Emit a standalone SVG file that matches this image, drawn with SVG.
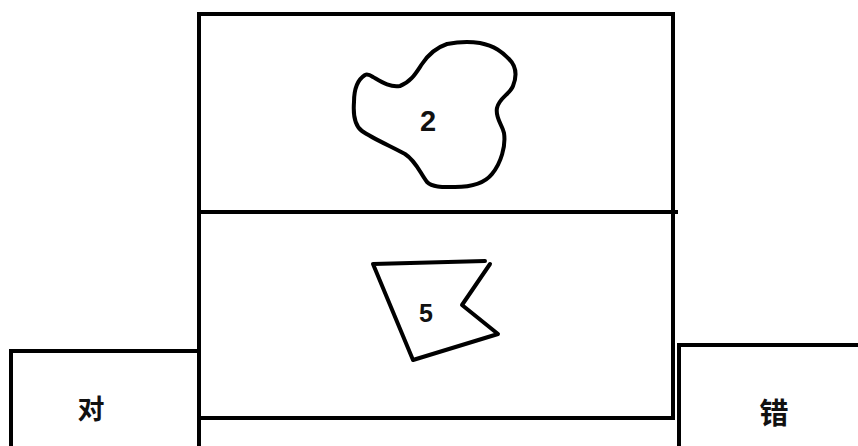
<svg xmlns="http://www.w3.org/2000/svg" width="858" height="446" viewBox="0 0 858 446">
<style>
.ln{fill:none;stroke:#000;stroke-width:4;stroke-linejoin:miter;stroke-linecap:square}
.sh{fill:none;stroke:#000;stroke-width:4;stroke-linejoin:round;stroke-linecap:round}
.t{font-family:"Liberation Sans","Noto Sans CJK SC",sans-serif;font-weight:bold;fill:#111;text-anchor:middle}
</style>
<rect width="858" height="446" fill="#fff"/>
<g id="main-box">
<path class="ln" d="M199,446 V14 H673 V418"/>
<path class="ln" d="M200,212 H676"/>
<path class="ln" d="M200,418 H673"/>
</g>
<g id="left-box">
<path class="ln" d="M11,446 V351 H199"/>
<text class="t" x="91" y="419" font-size="27">对</text>
</g>
<g id="right-box">
<path class="ln" d="M679,446 V345 H858"/>
<text class="t" x="774" y="424" font-size="29">错</text>
</g>
<g id="shape-2">
<path class="sh" d="M365,75 C357,80 354,90 354,102 C353,115 355,126 362,131 C372,138 390,146 405,154 C416,161 420,173 427,182 C433,188 445,187 455,187 C470,187 484,184 492,174 C501,163 506,146 504,133 C502,124 495,118 497,108 C499,98 510,94 513,86 C517,76 516,66 509,59 C502,52 495,46 480,43 C468,41 457,42 447,44 C435,48 428,55 422,64 C416,73 411,82 400,86 C390,88 380,81 373,77 C370,75 367,74 365,75 Z"/>
<text class="t" x="428" y="131" font-size="29">2</text>
</g>
<g id="shape-5">
<path class="sh" d="M373,264 L485,261 M490,264 L462,305 L498,334 L413,360 L373,264"/>
<text class="t" x="426" y="322" font-size="25">5</text>
</g>
</svg>
